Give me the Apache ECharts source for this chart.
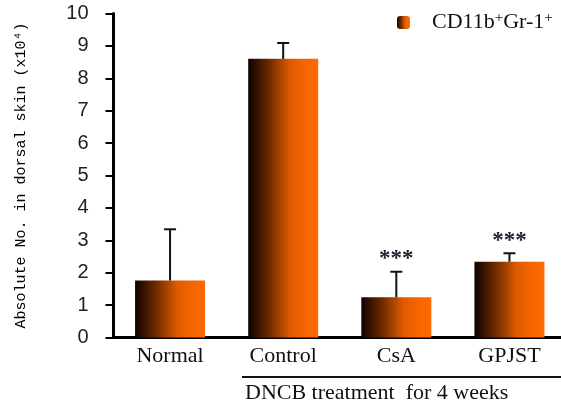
<!DOCTYPE html>
<html>
<head>
<meta charset="utf-8">
<script src="https://cdn.jsdelivr.net/npm/echarts@6/dist/echarts.min.js"></script>
<style>html,body{margin:0;padding:0;background:#fff;overflow:hidden}#c{width:569px;height:409px}</style>
</head>
<body>
<div id="c"></div>
<script>
var categories = ['Normal', 'Control', 'CsA', 'GPJST'];
var means = [1.76, 8.6, 1.24, 2.34];
var errors = [1.58, 0.49, 0.79, 0.26];
var stars = ['', '', '***', '***'];
var yTicks = [0, 1, 2, 3, 4, 5, 6, 7, 8, 9, 10];
var seriesName = 'CD11b+Gr-1+';

var grad = new echarts.graphic.LinearGradient(0, 0, 1, 0, [
  {offset: 0, color: '#0d0200'},
  {offset: 0.3, color: '#6e2a00'},
  {offset: 0.6, color: '#de5a00'},
  {offset: 0.8, color: '#f56500'},
  {offset: 1, color: '#ff6a00'}
]);

var chart = echarts.init(document.getElementById('c'));
var serif = 'Liberation Serif';
chart.setOption({
  animation: false,
  backgroundColor: '#fff',
  grid: {left: 113.5, right: 3, top: 13.5, bottom: 71.5},
  legend: {
    left: 397, top: 11, padding: 0,
    itemWidth: 13, itemHeight: 13, itemGap: 10,
    data: [seriesName],
    formatter: function () { return 'CD11b{s|+}Gr-1{s|+}'; },
    textStyle: {
      fontFamily: serif, fontSize: 22, color: '#111', padding: [0, 0, 0, 17],
      rich: {s: {fontFamily: serif, fontSize: 15, verticalAlign: 'top', color: '#111', padding: [0, 0, 8, 0]}}
    }
  },
  xAxis: {
    type: 'category',
    data: categories,
    axisLine: {lineStyle: {color: '#000', width: 3}},
    axisTick: {inside: true, length: 5, lineStyle: {color: '#000', width: 2}},
    axisLabel: {fontFamily: serif, fontSize: 22, color: '#111', margin: 8}
  },
  yAxis: {
    type: 'value',
    min: 0, max: 10, interval: 1,
    name: 'Absolute No. in dorsal skin (x10\u2074)',
    nameLocation: 'middle',
    nameRotate: 90,
    nameGap: 85,
    nameTextStyle: {fontFamily: 'Liberation Mono', fontSize: 15, color: '#000'},
    axisLine: {show: true, lineStyle: {color: '#000', width: 3}},
    axisTick: {show: true, length: 8, lineStyle: {color: '#000', width: 2}},
    splitLine: {show: false},
    axisLabel: {fontFamily: 'Liberation Sans', fontSize: 20, color: '#222', margin: 25,
      formatter: function (v) { return yTicks.indexOf(v) >= 0 ? String(v) : ''; }}
  },
  series: [
    {
      name: seriesName,
      type: 'bar',
      data: means,
      barWidth: 70,
      itemStyle: {color: grad}
    },
    {
      type: 'custom',
      name: 'err',
      z: 5,
      data: means.map(function (m, i) { return [i, m, m + errors[i]]; }),
      renderItem: function (params, api) {
        var x = api.coord([api.value(0), api.value(1)]);
        var t = api.coord([api.value(0), api.value(2)]);
        var cx = x[0];
        var children = [
          {type: 'line', shape: {x1: cx, y1: x[1], x2: cx, y2: t[1]}, style: {stroke: '#111', lineWidth: 2}},
          {type: 'line', shape: {x1: cx - 6, y1: t[1], x2: cx + 6, y2: t[1]}, style: {stroke: '#111', lineWidth: 2}}
        ];
        var s = stars[params.dataIndex];
        if (s) {
          children.push({type: 'text', style: {text: s, x: cx, y: t[1] - 1, textAlign: 'center', textVerticalAlign: 'bottom',
            fontFamily: serif, fontSize: 23, fill: '#223', fontWeight: 'bold'}});
        }
        return {type: 'group', children: children};
      }
    }
  ],
  graphic: [
    {type: 'line', shape: {x1: 242, y1: 377, x2: 569, y2: 377}, style: {stroke: '#111', lineWidth: 2}},
    {type: 'text', left: 245, top: 382, style: {text: 'DNCB treatment  for 4 weeks', fontFamily: serif, fontSize: 22, fill: '#111'}}
  ]
});
</script>
</body>
</html>
